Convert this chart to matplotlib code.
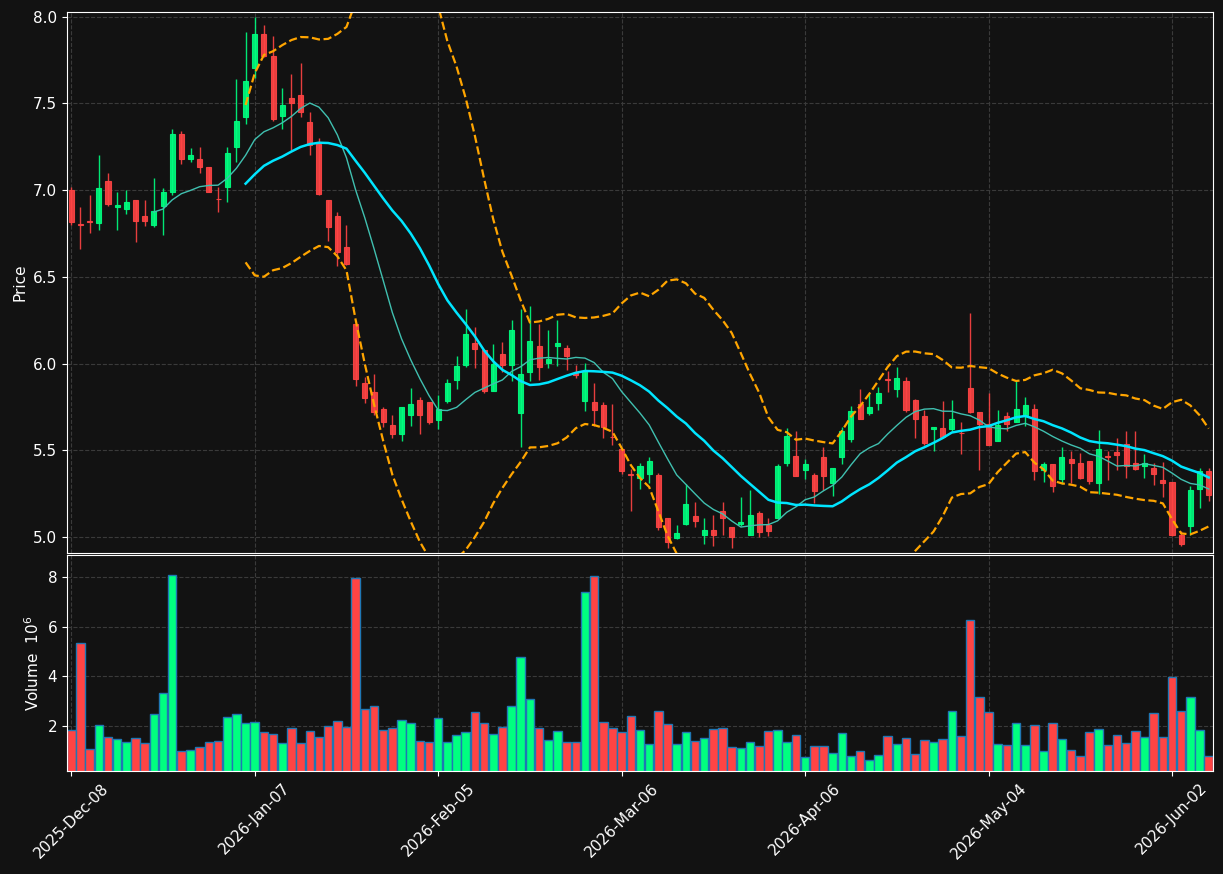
import numpy as np
import pandas as pd
import matplotlib
matplotlib.use("Agg")
import matplotlib.pyplot as plt

# trading calendar (NYSE holidays removed)
start, end = "2025-12-08", "2026-06-08"
holidays = ["2025-12-25", "2026-01-01", "2026-01-19", "2026-02-16", "2026-04-03", "2026-05-25"]

opens = [7.000, 6.802, 6.822, 6.809, 7.053, 6.900, 6.889, 6.945, 6.852, 6.797,
         6.910, 6.986, 7.324, 7.177, 7.181, 7.133, 6.951, 7.020, 7.246, 7.419,
         7.706, 7.899, 7.772, 7.427, 7.532, 7.548, 7.392, 7.267, 6.945, 6.852,
         6.673, 6.226, 5.887, 5.836, 5.737, 5.645, 5.595, 5.704, 5.789, 5.778,
         5.676, 5.784, 5.906, 5.990, 6.117, 6.076, 5.842, 6.057, 5.990, 5.717,
         5.953, 6.103, 6.004, 6.101, 6.092, 5.943, 5.784, 5.778, 5.760, 5.579,
         5.507, 5.363, 5.343, 5.363, 5.357, 5.111, 4.992, 5.078, 5.123, 5.014,
         5.041, 5.150, 5.059, 5.076, 5.010, 5.137, 5.068, 5.107, 5.425, 5.466,
         5.384, 5.357, 5.462, 5.312, 5.462, 5.567, 5.766, 5.715, 5.774, 5.910,
         5.854, 5.897, 5.789, 5.696, 5.624, 5.626, 5.624, 5.602, 5.858, 5.723,
         5.651, 5.554, 5.696, 5.665, 5.702, 5.737, 5.384, 5.421, 5.337, 5.450,
         5.425, 5.437, 5.312, 5.468, 5.491, 5.536, 5.425, 5.409, 5.398, 5.329,
         5.318, 5.014, 5.066, 5.275, 5.380]
highs = [7.018, 6.900, 6.970, 7.200, 7.099, 6.988, 7.000, 6.945, 6.943, 7.070,
         7.012, 7.351, 7.339, 7.244, 7.248, 7.133, 7.018, 7.248, 7.639, 7.908,
         7.996, 7.949, 7.885, 7.587, 7.667, 7.731, 7.448, 7.300, 6.945, 6.873,
         6.799, 6.226, 5.924, 5.938, 5.747, 5.706, 5.749, 5.858, 5.805, 5.778,
         5.817, 5.910, 6.045, 6.316, 6.209, 6.076, 6.115, 6.125, 6.253, 6.316,
         6.333, 6.230, 6.193, 6.251, 6.107, 5.994, 6.004, 5.887, 5.778, 5.766,
         5.507, 5.392, 5.425, 5.460, 5.368, 5.111, 5.070, 5.308, 5.203, 5.111,
         5.127, 5.203, 5.059, 5.230, 5.269, 5.152, 5.107, 5.419, 5.630, 5.610,
         5.450, 5.368, 5.517, 5.398, 5.637, 5.758, 5.856, 5.825, 5.867, 5.959,
         5.979, 5.924, 5.795, 5.733, 5.637, 5.784, 5.789, 5.661, 6.294, 5.723,
         5.830, 5.733, 5.723, 5.897, 5.805, 5.764, 5.435, 5.421, 5.517, 5.493,
         5.487, 5.437, 5.616, 5.497, 5.573, 5.610, 5.614, 5.476, 5.425, 5.435,
         5.318, 5.035, 5.292, 5.398, 5.398]
lows = [6.800, 6.660, 6.754, 6.768, 6.908, 6.768, 6.862, 6.700, 6.793, 6.789,
        6.739, 6.969, 7.150, 7.160, 7.097, 6.988, 6.873, 6.930, 7.160, 7.378,
        7.643, 7.766, 7.400, 7.351, 7.232, 7.421, 7.199, 6.969, 6.708, 6.563,
        6.565, 5.871, 5.774, 5.706, 5.637, 5.569, 5.554, 5.641, 5.595, 5.651,
        5.624, 5.774, 5.856, 5.982, 5.977, 5.832, 5.842, 5.949, 5.897, 5.517,
        5.897, 5.906, 5.977, 5.984, 5.963, 5.914, 5.725, 5.641, 5.573, 5.532,
        5.363, 5.148, 5.275, 5.312, 5.039, 4.938, 4.988, 5.068, 5.055, 4.957,
        4.947, 5.014, 4.938, 5.066, 5.010, 4.998, 5.008, 5.107, 5.409, 5.353,
        5.337, 5.199, 5.271, 5.236, 5.419, 5.548, 5.682, 5.706, 5.733, 5.836,
        5.805, 5.719, 5.569, 5.528, 5.497, 5.569, 5.610, 5.476, 5.713, 5.384,
        5.532, 5.554, 5.610, 5.661, 5.641, 5.329, 5.316, 5.257, 5.308, 5.312,
        5.333, 5.308, 5.246, 5.329, 5.384, 5.339, 5.384, 5.339, 5.298, 5.230,
        5.004, 4.949, 5.014, 5.168, 5.209]
closes = [6.817, 6.797, 6.818, 7.014, 6.918, 6.916, 6.932, 6.819, 6.819, 6.881,
          6.990, 7.324, 7.177, 7.203, 7.131, 6.988, 6.947, 7.216, 7.398, 7.628,
          7.899, 7.770, 7.407, 7.491, 7.499, 7.448, 7.257, 6.979, 6.788, 6.645,
          6.573, 5.912, 5.801, 5.723, 5.665, 5.595, 5.749, 5.766, 5.704, 5.663,
          5.737, 5.887, 5.984, 6.168, 6.082, 5.842, 5.996, 5.990, 6.195, 5.938,
          6.131, 5.982, 6.025, 6.117, 6.045, 5.934, 5.955, 5.733, 5.637, 5.575,
          5.380, 5.359, 5.409, 5.437, 5.055, 4.969, 5.025, 5.191, 5.092, 5.041,
          5.010, 5.107, 4.998, 5.086, 5.127, 5.027, 5.037, 5.409, 5.585, 5.353,
          5.421, 5.265, 5.353, 5.398, 5.610, 5.725, 5.682, 5.749, 5.830, 5.905,
          5.914, 5.733, 5.682, 5.542, 5.637, 5.579, 5.678, 5.598, 5.723, 5.651,
          5.532, 5.645, 5.651, 5.737, 5.760, 5.378, 5.421, 5.296, 5.462, 5.425,
          5.343, 5.322, 5.507, 5.464, 5.474, 5.411, 5.394, 5.425, 5.363, 5.314,
          5.014, 4.959, 5.271, 5.380, 5.240]
volumes = [1.84, 5.36, 1.09, 2.04, 1.56, 1.48, 1.36, 1.52, 1.32, 2.48,
           3.32, 8.08, 1.01, 1.05, 1.16, 1.37, 1.41, 2.36, 2.48, 2.12,
           2.16, 1.76, 1.68, 1.32, 1.92, 1.32, 1.80, 1.56, 2.00, 2.20,
           1.96, 7.96, 2.68, 2.80, 1.84, 1.92, 2.24, 2.12, 1.40, 1.36,
           2.32, 1.36, 1.64, 1.76, 2.56, 2.12, 1.68, 1.96, 2.80, 4.80,
           3.08, 1.92, 1.44, 1.80, 1.36, 1.36, 7.40, 8.04, 2.16, 1.92,
           1.76, 2.40, 1.84, 1.28, 2.60, 2.08, 1.28, 1.76, 1.40, 1.52,
           1.88, 1.92, 1.16, 1.12, 1.36, 1.20, 1.80, 1.84, 1.36, 1.64,
           0.76, 1.20, 1.20, 0.92, 1.72, 0.79, 1.00, 0.63, 0.84, 1.60,
           1.28, 1.52, 0.88, 1.44, 1.36, 1.48, 2.60, 1.60, 6.28, 3.16,
           2.56, 1.28, 1.24, 2.12, 1.24, 2.04, 1.00, 2.12, 1.48, 1.04,
           0.80, 1.76, 1.88, 1.24, 1.64, 1.32, 1.80, 1.56, 2.52, 1.56,
           3.96, 2.60, 3.16, 1.84, 0.79]  # x 10^6

dates = pd.bdate_range(start, end)
dates = dates[~dates.isin(pd.to_datetime(holidays))]

BG = "#121212"
UP, DOWN = "#00ff80", "#ff4444"
GRID = "#3a3a3a"
FS = 11

df = pd.DataFrame({"Open": opens, "High": highs, "Low": lows, "Close": closes,
                   "Volume": volumes}, index=dates)
x = np.arange(len(df))
up = df["Close"] >= df["Open"]
cols = np.where(up, UP, DOWN)

mav10 = df["Close"].rolling(10).mean()
mav20 = df["Close"].rolling(20).mean()
std20 = df["Close"].rolling(20).std()
bb_up = mav20 + 2 * std20
bb_lo = mav20 - 2 * std20

fig = plt.figure(figsize=(12.23, 8.74), dpi=100, facecolor=BG)
W, H = 1223, 874
ax = fig.add_axes([67 / W, 1 - 553 / H, 1146 / W, 541 / H])
axv = fig.add_axes([67 / W, 1 - 771 / H, 1146 / W, 216 / H], sharex=ax)

for a in (ax, axv):
    a.set_facecolor(BG)
    a.grid(True, color=GRID, linestyle="--", linewidth=0.8)
    a.set_axisbelow(True)
    for s in a.spines.values():
        s.set_color("white")
    a.tick_params(colors="white", labelsize=FS)

# candles
ax.vlines(x, df["Low"], df["High"], colors=cols, linewidth=1, alpha=0.9)
ax.bar(x, (df["Close"] - df["Open"]).abs(), bottom=np.minimum(df["Open"], df["Close"]),
       width=0.55, color=cols, edgecolor=cols, linewidth=0.8, alpha=0.9)

ax.plot(x, mav10, color="#40c0b0", linewidth=1)
ax.plot(x, mav20, color="#00e5ff", linewidth=1.8)
ax.plot(x, bb_up, color="orange", linestyle="--", linewidth=1.6)
ax.plot(x, bb_lo, color="orange", linestyle="--", linewidth=1.6)

ax.set_ylim(df["Low"].min() - 0.03, df["High"].max() + 0.03)
ax.set_yticks(np.arange(5.0, 8.01, 0.5))
ax.set_ylabel("Price", color="white", fontsize=FS)
ax.tick_params(axis="x", which="both", bottom=False, labelbottom=False)

# volume
axv.bar(x, df["Volume"], width=0.93, color=cols, edgecolor="#1f77b4", linewidth=1)
axv.set_ylim(0.3 * df["Volume"].min(), 1.1 * df["Volume"].max())
axv.set_yticks([2, 4, 6, 8])
axv.set_ylabel("Volume  $10^6$", color="white", fontsize=FS)

ticks = x[::20]
axv.set_xticks(ticks)
axv.set_xticklabels([dates[i].strftime("%Y-%b-%d") for i in ticks], rotation=45, ha="center")
axv.set_xlim(-0.47, len(x) - 0.53)

fig.savefig("out.png", dpi=100, facecolor=BG)
